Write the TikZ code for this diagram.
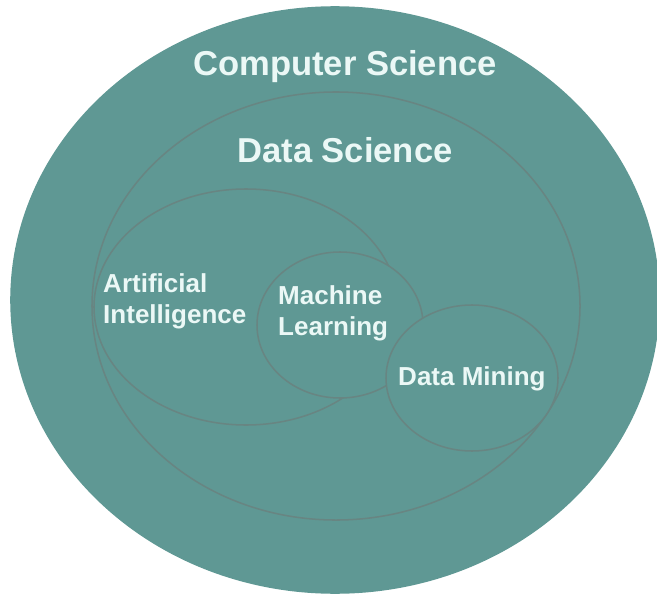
\documentclass[tikz,border=0pt]{standalone}
\usepackage{fontspec}
\setmainfont{Liberation Sans}
\usepackage{tikz}
\usetikzlibrary{shapes.geometric}
\definecolor{tealfill}{HTML}{5F9894}
\definecolor{ringline}{HTML}{688582}
\definecolor{labeltext}{HTML}{EBF8F6}

\begin{document}
\begin{tikzpicture}[
    x=0.03cm, y=-0.03cm,
    field/.style={ellipse, draw=ringline, line width=1.3pt, fill=tealfill, inner sep=0pt},
    biglabel/.style={font=\fontsize{29.5}{35}\selectfont\bfseries, text=labeltext, inner sep=0pt},
    smalllabel/.style={font=\fontsize{22.2}{26}\selectfont\bfseries, text=labeltext, inner sep=0pt, align=left}
]
\useasboundingbox (0,0) rectangle (657,596);

\node[field, draw=tealfill, minimum width=19.44cm, minimum height=17.58cm] (cs) at (335,300) {};
\node[field, minimum width=14.64cm, minimum height=12.84cm] (ds) at (336,306) {};
\node[field, minimum width=9.12cm, minimum height=7.08cm] (ai) at (246,307) {};
\node[field, minimum width=4.98cm, minimum height=4.38cm] (ml) at (340,325) {};
\node[field, minimum width=5.16cm, minimum height=4.38cm] (dm) at (472,378) {};

% multi-line labels sit on the baseline of their last line
\node[biglabel, anchor=base] (cstext) at (345,76) {Computer Science};
\node[biglabel, anchor=base] (dstext) at (345,162) {Data Science};
\node[smalllabel, anchor=base west] (aitext) at (103,323) {Artificial\\Intelligence};
\node[smalllabel, anchor=base west] (mltext) at (278,335) {Machine\\Learning};
\node[smalllabel, anchor=base west] (dmtext) at (398,385) {Data Mining};

\end{tikzpicture}
\end{document}
